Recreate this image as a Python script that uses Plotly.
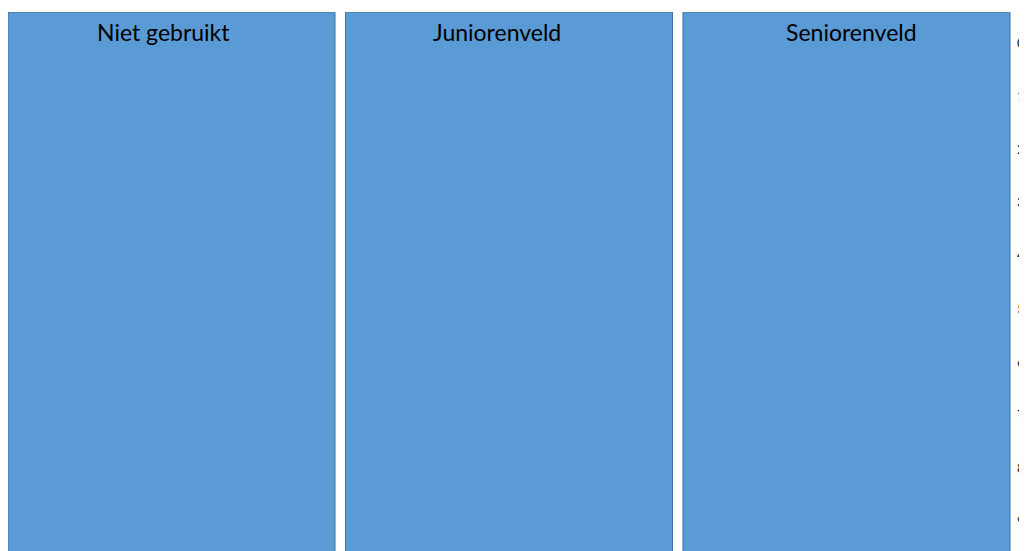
import plotly.graph_objects as go

categories = ["Niet gebruikt", "Juniorenveld", "Seniorenveld"]
bar_start = [-0.58, -0.58, -0.58]
bar_end = [10.2, 10.2, 10.2]
row_ticks = [0, 1, 2, 3, 4, 5, 6, 7, 8, 9]
row_labels = [str(v) for v in row_ticks]
title_xshift = [-8, -12, 5]

fig = go.Figure()
fig.add_trace(go.Bar(
    x=categories,
    y=[e - s for s, e in zip(bar_start, bar_end)],
    base=bar_start,
    marker=dict(color="#5B9BD5", line=dict(color="#41719C", width=1)),
    width=0.969,
    hoverinfo="skip",
    showlegend=False,
))

for c, dx in zip(categories, title_xshift):
    fig.add_annotation(
        x=c, xref="x", y=1, yref="paper", yanchor="top", yshift=-4, xshift=dx,
        text=c, showarrow=False,
        font=dict(family="Lato, Carlito, sans-serif", size=23, color="#000000"),
    )

fig.update_layout(
    width=1019, height=543,
    margin=dict(l=0, r=12, t=4, b=0),
    paper_bgcolor="white", plot_bgcolor="white",
    xaxis=dict(range=[-0.4844, 2.4993], showticklabels=False, showgrid=False,
               zeroline=False, showline=False, fixedrange=True),
    yaxis=dict(range=[9.567, -0.584], autorange=False, side="right",
               tickvals=row_ticks, ticktext=row_labels, showgrid=False,
               zeroline=False, showline=False, ticks="", automargin=False,
               tickfont=dict(family="Lato, Carlito, sans-serif", size=14, color="#222222"),
               ticklabelstandoff=1),
)

fig.write_html("out.html")
